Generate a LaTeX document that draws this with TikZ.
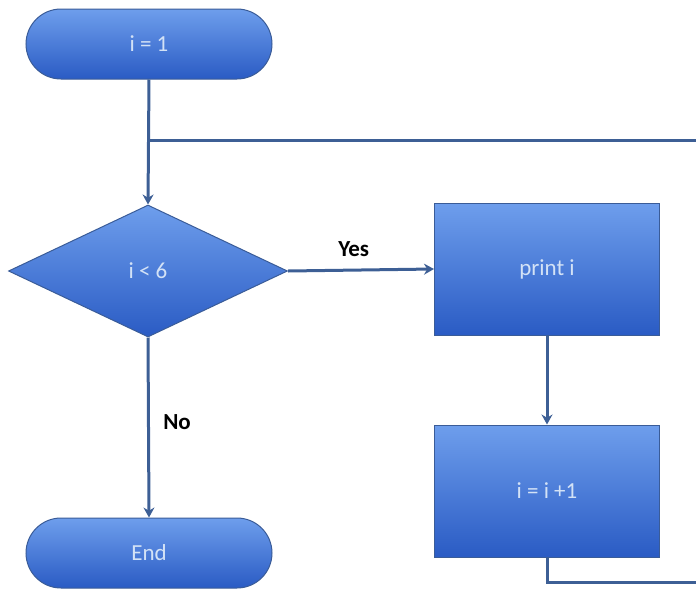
\documentclass[tikz,border=0pt]{standalone}
\usepackage{fontspec}
\setmainfont{Carlito}
\usetikzlibrary{shapes.geometric,arrows.meta}
\definecolor{topc}{HTML}{6E9EEC}
\definecolor{botc}{HTML}{2A5BC4}
\definecolor{edgec}{HTML}{3A5C98}
\definecolor{linec}{HTML}{3D5F95}
\definecolor{txtc}{HTML}{D3E2F6}
\begin{document}
\begin{tikzpicture}[x=1pt,y=-1pt,
  blk/.style={draw=edgec,line width=1pt,top color=topc,bottom color=botc,
    text=txtc,font=\fontsize{23}{25}\selectfont,inner sep=0pt},
  term/.style={blk,rectangle,rounded corners=35pt,minimum width=246pt,minimum height=70pt},
  procbox/.style={blk,rectangle,minimum width=225pt,minimum height=132pt},
  decis/.style={blk,diamond,minimum width=279pt,minimum height=132pt},
  conn/.style={draw=linec,line width=3pt},
  arr/.style={conn,-{Stealth[length=10pt,width=11pt]}},
  lbl/.style={font=\bfseries\fontsize{23}{25}\selectfont,text=black}]
\useasboundingbox (0,0) rectangle (696,592);
\node[term] (start) at (149,44) {i = 1};
\node[decis] (dec) at (148,271) {i < 6};
\node[procbox] (prt) at (547,269) {print i};
\node[procbox] (inc) at (547,491) {i = i +1};
\node[term] (stop) at (149,553) {End};
\coordinate (j) at (149,140);
\coordinate (ur) at (697,140);
\coordinate (lr) at (697,582);
\draw[arr] (start.south) -- (dec.north);
\draw[arr] (dec.east) -- node[lbl,above=9pt,pos=0.45] {Yes} (prt.west);
\draw[arr] (prt.south) -- (inc.north);
\draw[arr] (dec.south) -- node[lbl,right=10pt,pos=0.47] {No} (stop.north);
\draw[conn] (inc.south) |- (lr);
\draw[conn] (ur) -- (j);
\end{tikzpicture}
\end{document}
